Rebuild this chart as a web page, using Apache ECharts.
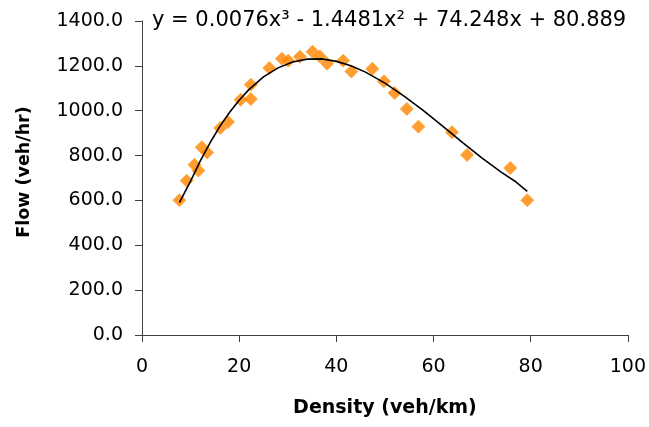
<!DOCTYPE html>
<html>
<head>
<meta charset="utf-8">
<script src="https://cdn.jsdelivr.net/npm/echarts@6/dist/echarts.min.js"></script>
<style>html,body{margin:0;padding:0;background:#fff;}#c{width:649px;height:427px;}</style>
</head>
<body>
<div id="c"></div>
<script>
// Observed data (density veh/km, flow veh/hr)
var densityData = [7.7, 9.2, 10.8, 11.6, 12.3, 13.4, 16.1, 17.7, 20.3, 22.4, 22.4, 26.2, 28.8, 30.1, 32.5, 35.1, 36.6, 38.1, 41.4, 43.1, 47.4, 49.8, 52.0, 54.5, 56.9, 63.8, 66.9, 75.8, 79.3];
var flowData    = [601, 688, 759, 733, 837, 814, 923, 950, 1049, 1052, 1116, 1190, 1232, 1223, 1241, 1263, 1242, 1210, 1223, 1175, 1187, 1131, 1079, 1008, 929, 904, 803, 745, 601];
// Trend line
var trendX = [7.7, 10, 12, 14, 16, 18, 20, 22, 25, 28, 31, 34, 37, 40, 43, 46, 50, 54, 58, 62, 66, 70, 74, 77, 79.3];
var trendY = [590, 686, 776, 857, 929, 992, 1047, 1094, 1151, 1191, 1217, 1230, 1231, 1220, 1200, 1172, 1123, 1064, 999, 929, 858, 789, 725, 682, 640];
var xTicks = [0, 20, 40, 60, 80, 100];
var yTicks = [0, 200, 400, 600, 800, 1000, 1200, 1400];
var equationText = 'y = 0.0076x³ - 1.4481x² + 74.248x + 80.889';

var scatterPts = densityData.map(function (d, i) { return [d, flowData[i]]; });
var trendPts = trendX.map(function (d, i) { return [d, trendY[i]]; });

var chart = echarts.init(document.getElementById('c'), null, {renderer: 'canvas'});
var font = 'DejaVu Sans, sans-serif';
chart.setOption({
  animation: false,
  backgroundColor: '#fff',
  grid: {left: 142, right: 21, top: 21, bottom: 92, containLabel: false},
  xAxis: {
    type: 'value', min: xTicks[0], max: xTicks[xTicks.length - 1], interval: 20,
    name: 'Density (veh/km)', nameLocation: 'middle', nameGap: 64,
    nameTextStyle: {fontFamily: font, fontSize: 19, fontWeight: 'bold', color: '#000'},
    axisLine: {lineStyle: {color: '#404040', width: 1}},
    axisTick: {show: true, inside: false, length: 7, lineStyle: {color: '#404040'}},
    axisLabel: {fontFamily: font, fontSize: 19, color: '#000', margin: 23},
    splitLine: {show: false}
  },
  yAxis: {
    type: 'value', min: yTicks[0], max: yTicks[yTicks.length - 1], interval: 200,
    name: 'Flow (veh/hr)', nameLocation: 'middle', nameGap: 109, nameRotate: 90,
    nameTextStyle: {fontFamily: font, fontSize: 17.5, fontWeight: 'bold', color: '#000', padding: [0, 0, 0, 12]},
    axisLine: {show: true, lineStyle: {color: '#404040', width: 1}},
    axisTick: {show: true, inside: false, length: 7, lineStyle: {color: '#404040'}},
    axisLabel: {fontFamily: font, fontSize: 19, color: '#000', margin: 19,
      formatter: function (v) { return v.toFixed(1); }},
    splitLine: {show: false}
  },
  series: [
    {
      type: 'scatter', data: scatterPts, symbol: 'diamond', symbolSize: 13,
      itemStyle: {color: '#FF8400', borderColor: '#FFA020', borderWidth: 1}, z: 2
    },
    {
      type: 'line', data: trendPts, showSymbol: false, symbol: 'none', smooth: false,
      lineStyle: {color: '#000', width: 1.6}, z: 3
    }
  ],
  graphic: [{
    type: 'text', left: 152, top: 10,
    style: {text: equationText, fontFamily: font, fontSize: 21, fill: '#000'}
  }]
});
</script>
</body>
</html>
